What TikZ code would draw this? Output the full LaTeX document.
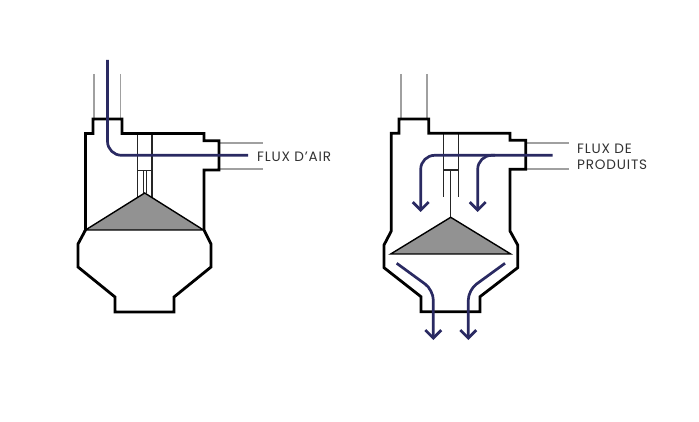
\documentclass[tikz,border=0pt]{standalone}
\usepackage{fontspec}
\setmainfont{Poppins}[LetterSpace=6]
\usetikzlibrary{arrows.meta,positioning}
\definecolor{flowblue}{RGB}{42,42,98}
\definecolor{ductgray}{RGB}{160,160,160}
\definecolor{conegray}{RGB}{146,146,146}
\definecolor{labelgray}{RGB}{50,50,50}
\tikzset{
    wall/.style={black, line width=2.8pt, line join=miter},
    duct/.style={ductgray, line width=1.8pt},
    tube/.style={black!85, line width=1.4pt},
    cone/.style={fill=conegray, draw=black, line width=1.4pt, line join=miter},
    flow/.style={flowblue, line width=2.7pt, rounded corners=14pt},
    flowtip/.style={flow, -{Straight Barb[length=8pt,width=16pt,line width=2.7pt]}},
    flowlabel/.style={inner sep=0pt, anchor=base west, text=labelgray, font=\fontsize{13.6pt}{16pt}\selectfont},
}
\begin{document}
\begin{tikzpicture}[x=1pt,y=-1pt]
    \useasboundingbox (0,0) rectangle (699,422);

    % left
    \draw[duct] (94,74) -- (94,119) (120.5,74) -- (120.5,119);
    \draw[duct] (219,142.7) -- (263,142.7) (219,169) -- (263,169);
    \draw[tube] (137.3,133.5) -- (137.3,197) (152,133.5) -- (152,197);
    \draw[tube] (137.3,170.5) -- (152,170.5);
    \draw[tube] (143.5,170.5) -- (143.5,193) (146.5,170.5) -- (146.5,193);
    \draw[cone] (144.7,193) -- (203.5,230) -- (85.5,230) -- cycle;
    \draw[wall] (85.5,230) -- (85.5,133.5) -- (93,133.5) -- (93,119) -- (122,119) -- (122,133.5)
        -- (204,133.5) -- (204,140.7) -- (219,140.7) -- (219,170) -- (204,170) -- (204,230)
        -- (211,244) -- (211,267) -- (174,297) -- (174,312) -- (115,312) -- (115,297)
        -- (78,267) -- (78,244) -- cycle;
    \draw[flow] (107.5,60) -- (107.5,155.3) -- (248,155.3);
    \node[flowlabel] (airlabel) at (257,162) {FLUX D'AIR};

    % right
    \draw[duct] (400.7,74) -- (400.7,119) (426.7,74) -- (426.7,119);
    \draw[duct] (525.7,142.7) -- (569,142.7) (525.7,168.7) -- (569,168.7);
    \draw[tube] (443.3,133.3) -- (443.3,196.7) (458.3,133.3) -- (458.3,196.7);
    \draw[tube] (443.3,170) -- (458.3,170);
    \draw[tube] (450.7,170) -- (450.7,217.3);
    \draw[cone] (450.7,217.3) -- (510.7,254) -- (390.7,254) -- cycle;
    \draw[wall] (391.3,231) -- (391.3,133.3) -- (399,133.3) -- (399,119) -- (428.7,119) -- (428.7,133.3)
        -- (510,133.3) -- (510,140.3) -- (525.7,140.3) -- (525.7,169.3) -- (510,169.3) -- (510,231)
        -- (517.7,245) -- (517.7,267.7) -- (480,296.7) -- (480,311.7) -- (421,311.7) -- (421,296.7)
        -- (384,267.7) -- (384,245) -- cycle;
    \draw[flowtip] (552.7,155.3) -- (420.7,155.3) -- (420.7,212);
    \draw[flowtip] (495,155.3) -- (477.7,155.3) -- (477.7,212);
    \draw[flowtip, rounded corners=10pt] (396.7,263.3) -- (433.3,290) -- (433.3,340);
    \draw[flowtip, rounded corners=10pt] (505,263.3) -- (468.3,290) -- (468.3,340);
    \node[flowlabel] (prodlabel) at (577,154) {FLUX DE};
    \node[flowlabel] (prodlabeltwo) at (577,170) {PRODUITS};
\end{tikzpicture}
\end{document}
